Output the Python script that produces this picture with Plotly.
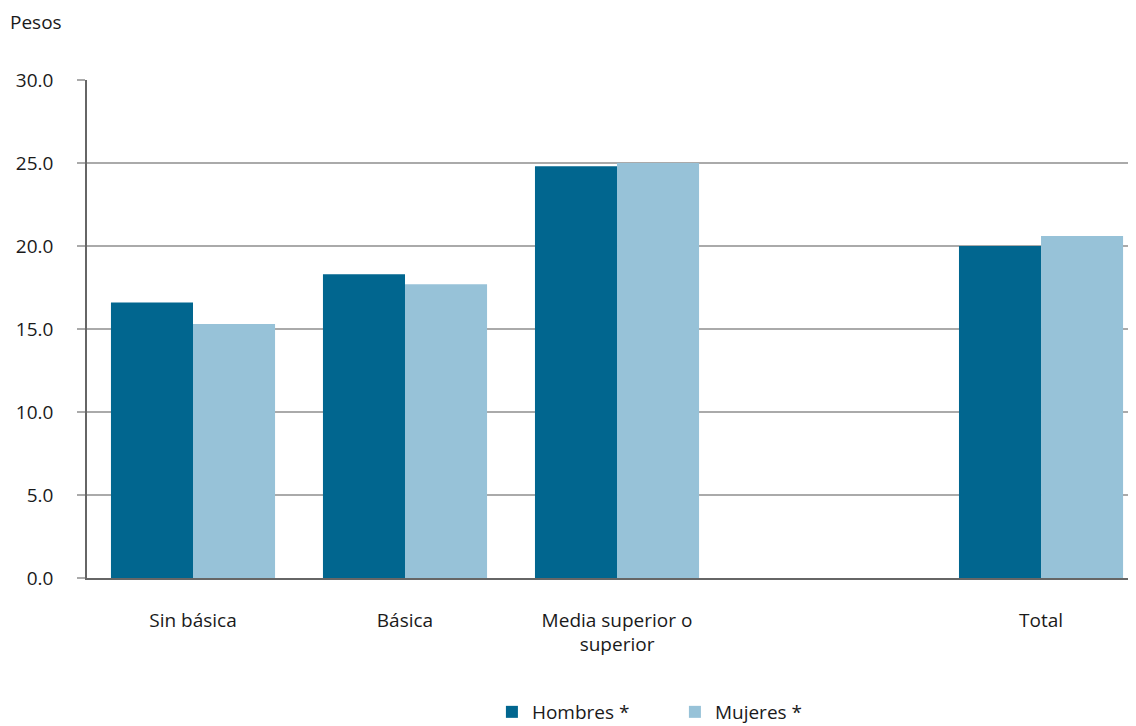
import plotly.graph_objects as go

categories = ["Sin básica", "Básica", "Media superior o<br>superior", " ", "Total"]
hombres = [16.6, 18.3, 24.8, None, 20.0]
mujeres = [15.3, 17.7, 25.0, None, 20.6]
series_names = ["Hombres *", "Mujeres *"]
y_ticks = [0, 5, 10, 15, 20, 25, 30]

FONT = "Open Sans"
FS = 19
fig = go.Figure()
fig.add_trace(go.Bar(x=categories, y=hombres, name=series_names[0],
                     marker=dict(color="#01668F", line=dict(width=0))))
fig.add_trace(go.Bar(x=categories, y=mujeres, name=series_names[1],
                     marker=dict(color="#97C2D8", line=dict(width=0))))

fig.update_layout(
    width=1128, height=718,
    margin=dict(l=79, r=0, t=72, b=148, autoexpand=False),
    paper_bgcolor="white", plot_bgcolor="white",
    barmode="group", bargap=0.226, bargroupgap=0,
    font=dict(family=FONT, size=FS, color="#1a1a1a"),
    legend=dict(orientation="h", x=0.386, xanchor="left",
                yref="container", y=0.0195, yanchor="middle",
                font=dict(size=FS), entrywidth=138, entrywidthmode="pixels",
                itemwidth=30),
    xaxis=dict(type="category", range=[-0.5, 4.448], showgrid=False,
               showline=True, linecolor="#666666", linewidth=1.5,
               ticks="", ticklabelstandoff=24, tickfont=dict(size=FS)),
    yaxis=dict(range=[0, 30], tickvals=y_ticks, tickformat=".1f",
               showgrid=True, gridcolor="#AAAAAA", gridwidth=1.5,
               showline=True, linecolor="#666666", linewidth=1.5,
               ticks="outside", ticklen=8, tickcolor="#AAAAAA", tickwidth=1.5,
               ticklabelstandoff=20, tickfont=dict(size=FS), zeroline=False),
    annotations=[dict(text="Pesos", xref="paper", yref="paper", x=0, y=1,
                      xshift=-79, yshift=58, xanchor="left", yanchor="middle",
                      showarrow=False, font=dict(size=FS))],
)
fig.write_html("out.html")
